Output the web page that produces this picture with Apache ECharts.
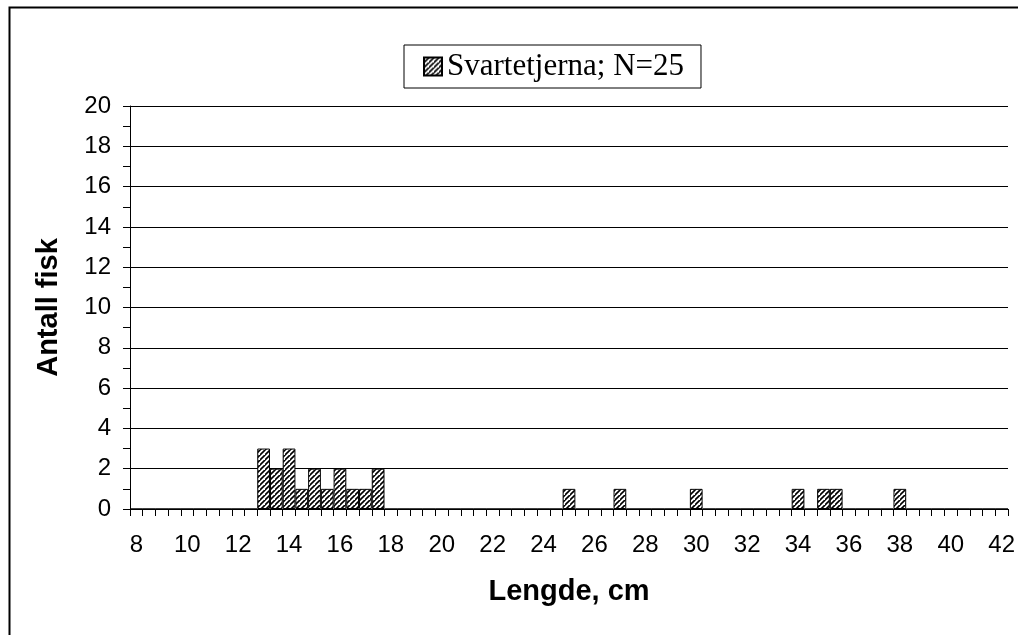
<!DOCTYPE html>
<html>
<head>
<meta charset="utf-8">
<script src="https://cdn.jsdelivr.net/npm/echarts@6/dist/echarts.min.js"></script>
<style>
html,body{margin:0;padding:0;background:#fff;}
#chart{width:1018px;height:635px;}
</style>
</head>
<body>
<div id="chart"></div>
<script>
var categories = ['8','8.5','9','9.5','10','10.5','11','11.5','12','12.5',
  '13','13.5','14','14.5','15','15.5','16','16.5','17','17.5',
  '18','18.5','19','19.5','20','20.5','21','21.5','22','22.5',
  '23','23.5','24','24.5','25','25.5','26','26.5','27','27.5',
  '28','28.5','29','29.5','30','30.5','31','31.5','32','32.5',
  '33','33.5','34','34.5','35','35.5','36','36.5','37','37.5',
  '38','38.5','39','39.5','40','40.5','41','41.5','42'];
var counts = [0,0,0,0,0,0,0,0,0,0,
  3,2,3,1,2,1,2,1,1,2,
  0,0,0,0,0,0,0,0,0,0,
  0,0,0,0,1,0,0,0,1,0,
  0,0,0,0,1,0,0,0,0,0,
  0,0,1,0,1,1,0,0,0,0,
  1,0,0,0,0,0,0,0,0];
var seriesName = 'Svartetjerna; N=25';
var xTitle = 'Lengde, cm';
var yTitle = 'Antall fisk';

// hatch pattern
var P = 5;
var pc = document.createElement('canvas');
pc.width = P; pc.height = P;
var g = pc.getContext('2d');
g.fillStyle = '#fff'; g.fillRect(0,0,P,P);
g.strokeStyle = '#000'; g.lineWidth = 1.6;
g.beginPath();
g.moveTo(-1,P+1); g.lineTo(P+1,-1);
g.moveTo(-P-1,P+1); g.lineTo(1,-1);
g.moveTo(P-1,2*P+1); g.lineTo(2*P+1,P-1);
g.stroke();
var hatch = {image: pc, repeat: 'repeat'};

var chart = echarts.init(document.getElementById('chart'), null, {renderer:'canvas'});
chart.setOption({
  backgroundColor: '#fff',
  animation: false,
  graphic: [{
    type: 'rect', left: 7, top: 5,
    shape: {width: 1100, height: 700},
    style: {fill: 'none', stroke: '#000', lineWidth: 2},
    silent: true
  }],
  legend: {
    left: 404, top: 45,
    padding: [6, 17, 6, 19],
    borderColor: '#000', borderWidth: 1,
    icon: 'rect', itemWidth: 18, itemHeight: 18, itemGap: 10,
    textStyle: {fontFamily: 'Liberation Serif', fontSize: 31, color: '#000'},
    data: [seriesName]
  },
  grid: {left: 130, right: 10, top: 106, bottom: 126, containLabel: false},
  xAxis: {
    type: 'category',
    data: categories,
    boundaryGap: true,
    name: xTitle,
    nameLocation: 'middle',
    nameGap: 68,
    nameTextStyle: {fontFamily: 'Liberation Sans', fontSize: 29, fontWeight: 'bold', color: '#000'},
    axisLine: {lineStyle: {color: '#000', width: 1}},
    axisTick: {show: true, interval: 0, length: 7, lineStyle: {color: '#000'}},
    axisLabel: {interval: 3, margin: 24, fontFamily: 'Liberation Sans', fontSize: 24, color: '#000'},
    splitLine: {show: false}
  },
  yAxis: {
    type: 'value',
    min: 0, max: 20, interval: 2,
    name: yTitle,
    nameLocation: 'middle',
    nameRotate: 90,
    nameGap: 67,
    nameTextStyle: {fontFamily: 'Liberation Sans', fontSize: 29, fontWeight: 'bold', color: '#000'},
    axisLine: {show: true, lineStyle: {color: '#000', width: 1}},
    axisTick: {show: true, length: 7, lineStyle: {color: '#000'}},
    minorTick: {show: true, splitNumber: 2, length: 7, lineStyle: {color: '#000'}},
    axisLabel: {margin: 19, fontFamily: 'Liberation Sans', fontSize: 24, color: '#000'},
    splitLine: {show: true, lineStyle: {color: '#000', width: 1}}
  },
  series: [{
    name: seriesName,
    type: 'bar',
    data: counts,
    barCategoryGap: '0%',
    barGap: '0%',
    itemStyle: {color: hatch, borderColor: '#000', borderWidth: 1}
  }]
});
</script>
</body>
</html>
